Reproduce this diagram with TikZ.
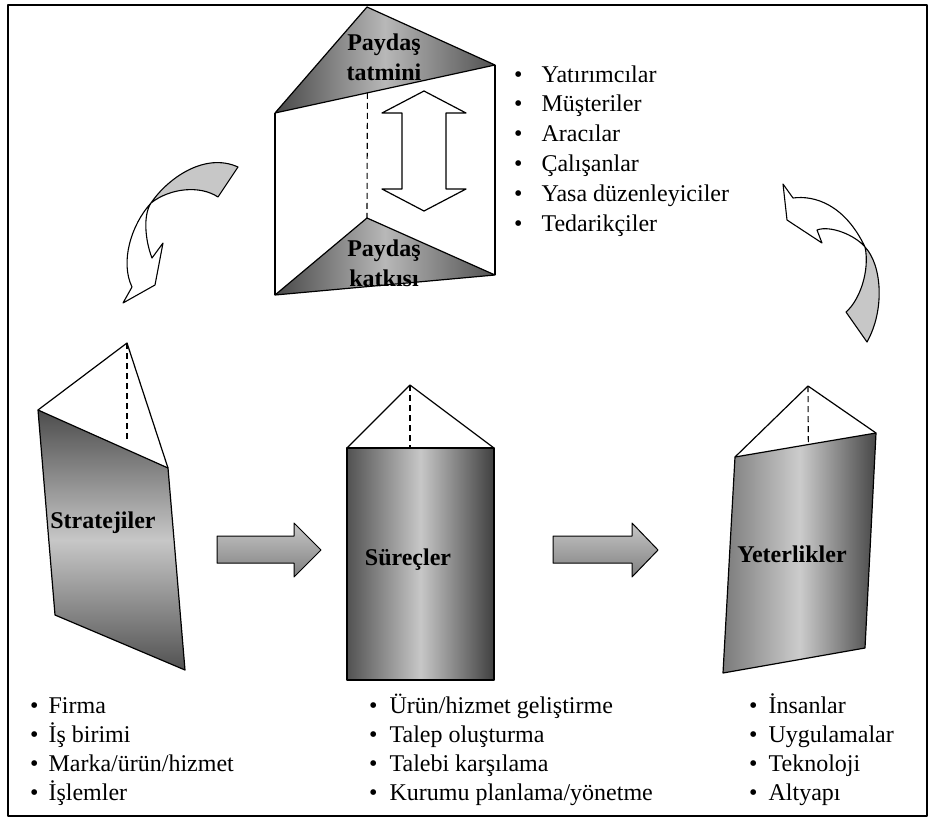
\documentclass[tikz,border=0pt]{standalone}
\usepackage{fontspec}
\setmainfont{Liberation Serif}
\usetikzlibrary{calc}
\begin{document}
\begin{tikzpicture}[x=1pt, y=-1pt, line width=1.2pt, line join=round]
        \tikzset{
  face/.style={
    draw=black
  },
  hidden edge/.style={
    dash pattern=on 6pt off 4pt,
    line width=1.1pt
  },
  prism label/.style={
    font=\fontsize{24}{30}\selectfont\bfseries,
    align=center,
    inner sep=0pt
  },
  list item/.style={
    font=\fontsize{24}{30}\selectfont,
    anchor=base west,
    inner sep=0pt
  },
  block arrow/.style={
    draw,
    line width=1pt,
    top color=black!22,
    bottom color=black!50
  },
  twist arrow/.style={
    draw,
    line width=1.1pt,
    fill=black!22
  }
}

\useasboundingbox (0,0) rectangle (930,820);
\draw[line width=2pt] (8,5) rectangle (927,816);

% stakeholder prism (top)
\coordinate (tt-apex) at (367,7);
\coordinate (tt-left) at (275,113);
\coordinate (tt-right) at (495,65);
\coordinate (bt-apex) at (367,218);
\coordinate (bt-right) at (495,275);
\coordinate (bt-left) at (275,295);
\draw (tt-left) -- (bt-left);
\draw (tt-right) -- (bt-right);
\draw[hidden edge] ($(tt-left)!0.42!(tt-right)$) -- (bt-apex);
\shade[face, left color=black!72, right color=black!68, middle color=black!28]
  (tt-apex) -- (tt-right) -- (tt-left) -- cycle;
\shade[face, left color=black!72, right color=black!68, middle color=black!28]
  (bt-apex) -- (bt-right) -- (bt-left) -- cycle;
\node[prism label] (satisfaction) at (384,57) {Paydaş\\tatmini};
\node[prism label] (contribution) at (384,263) {Paydaş\\katkısı};

% hollow double arrow
\draw[fill=white] (424,91) -- (466,113) -- (446,113) -- (446,189) -- (466,189)
  -- (424,211) -- (382,189) -- (402,189) -- (402,113) -- (382,113) -- cycle;

\foreach \t [count=\i] in {Yatırımcılar, Müşteriler, Aracılar, Çalışanlar, Yasa düzenleyiciler, Tedarikçiler}
  \node[list item] (stakeholder-\i) at (513.5,82+29.8*\i-29.8) {\makebox[27.5pt][l]{\textbullet}\t};

% strategies prism (left)
\coordinate (s-apex) at (127,343);
\coordinate (s-tl) at (38,410);
\coordinate (s-tr) at (168,468);
\coordinate (s-br) at (185,670);
\coordinate (s-bl) at (55,615);
\draw (s-tl) -- (s-apex) -- (s-tr);
\draw[hidden edge] (s-apex) -- (127,440);
\shade[face, top color=black!70, bottom color=black!68, middle color=black!22]
  (s-tl) -- (s-tr) -- (s-br) -- (s-bl) -- cycle;
\node[prism label, anchor=base] (strategies) at (103,528) {Stratejiler};

% processes prism (middle)
\coordinate (p-apex) at (410,385);
\coordinate (p-tl) at (347,448);
\coordinate (p-tr) at (494,448);
\draw (p-tl) -- (p-apex) -- (p-tr);
\draw[hidden edge] (p-apex) -- (410,448);
\shade[face, left color=black!68, right color=black!75, middle color=black!22]
  (p-tl) rectangle (494,680);
\node[prism label, anchor=base] (processes) at (408,565) {Süreçler};

% capabilities prism (right)
\coordinate (c-apex) at (808,386);
\coordinate (c-tl) at (735,457);
\coordinate (c-tr) at (876,433);
\coordinate (c-br) at (865,648);
\coordinate (c-bl) at (723,673);
\draw (c-tl) -- (c-apex) -- (c-tr);
\draw[hidden edge] (c-apex) -- ($(c-tl)!0.52!(c-tr)$);
\shade[face, left color=black!52, right color=black!72, middle color=black!20]
  (c-tl) -- (c-tr) -- (c-br) -- (c-bl) -- cycle;
\node[prism label, anchor=base] (capabilities) at (792,562) {Yeterlikler};

% block arrows between prisms
\draw[block arrow] (217,536) -- (294,536) -- (294,523) -- (321,550)
  -- (294,577) -- (294,563) -- (217,563) -- cycle;
\draw[block arrow] (553,536) -- (632,536) -- (632,523) -- (658,550)
  -- (632,577) -- (632,563) -- (553,563) -- cycle;

% twisted arrows
\filldraw[twist arrow] (151,203) .. controls (168,178) and (205,152) .. (238,167)
  -- (218,197) .. controls (200,185) and (170,188) .. (151,203) -- cycle;
\filldraw[draw, line width=1.1pt, fill=white] (151,203) .. controls (131,225) and (120,262) .. (132,287)
  -- (123,303) -- (155,285) -- (163,243) -- (152,258)
  .. controls (145,240) and (143,215) .. (151,203) -- cycle;
\filldraw[draw, line width=1.1pt, fill=white] (783,184) -- (793,198)
  .. controls (815,195) and (845,205) .. (865,247)
  .. controls (855,235) and (830,225) .. (817,230)
  -- (822,243) -- (787,220) -- cycle;
\filldraw[twist arrow] (865,247) .. controls (882,265) and (885,310) .. (867,342)
  -- (846,312) .. controls (860,300) and (870,270) .. (865,247) -- cycle;

\foreach \t [count=\i] in {Firma, İş birimi, Marka/ürün/hizmet, İşlemler}
  \node[list item] (strategy-\i) at (29.5,713+29*\i-29) {\makebox[18.5pt][l]{\textbullet}\t};

\foreach \t [count=\i] in {Ürün/hizmet geliştirme, Talep oluşturma, Talebi karşılama, Kurumu planlama/yönetme}
  \node[list item] (process-\i) at (368.5,713+29*\i-29) {\makebox[20.5pt][l]{\textbullet}\t};

\foreach \t [count=\i] in {İnsanlar, Uygulamalar, Teknoloji, Altyapı}
  \node[list item] (capability-\i) at (748.5,713+29*\i-29) {\makebox[19.5pt][l]{\textbullet}\t};
      \end{tikzpicture}
\end{document}
